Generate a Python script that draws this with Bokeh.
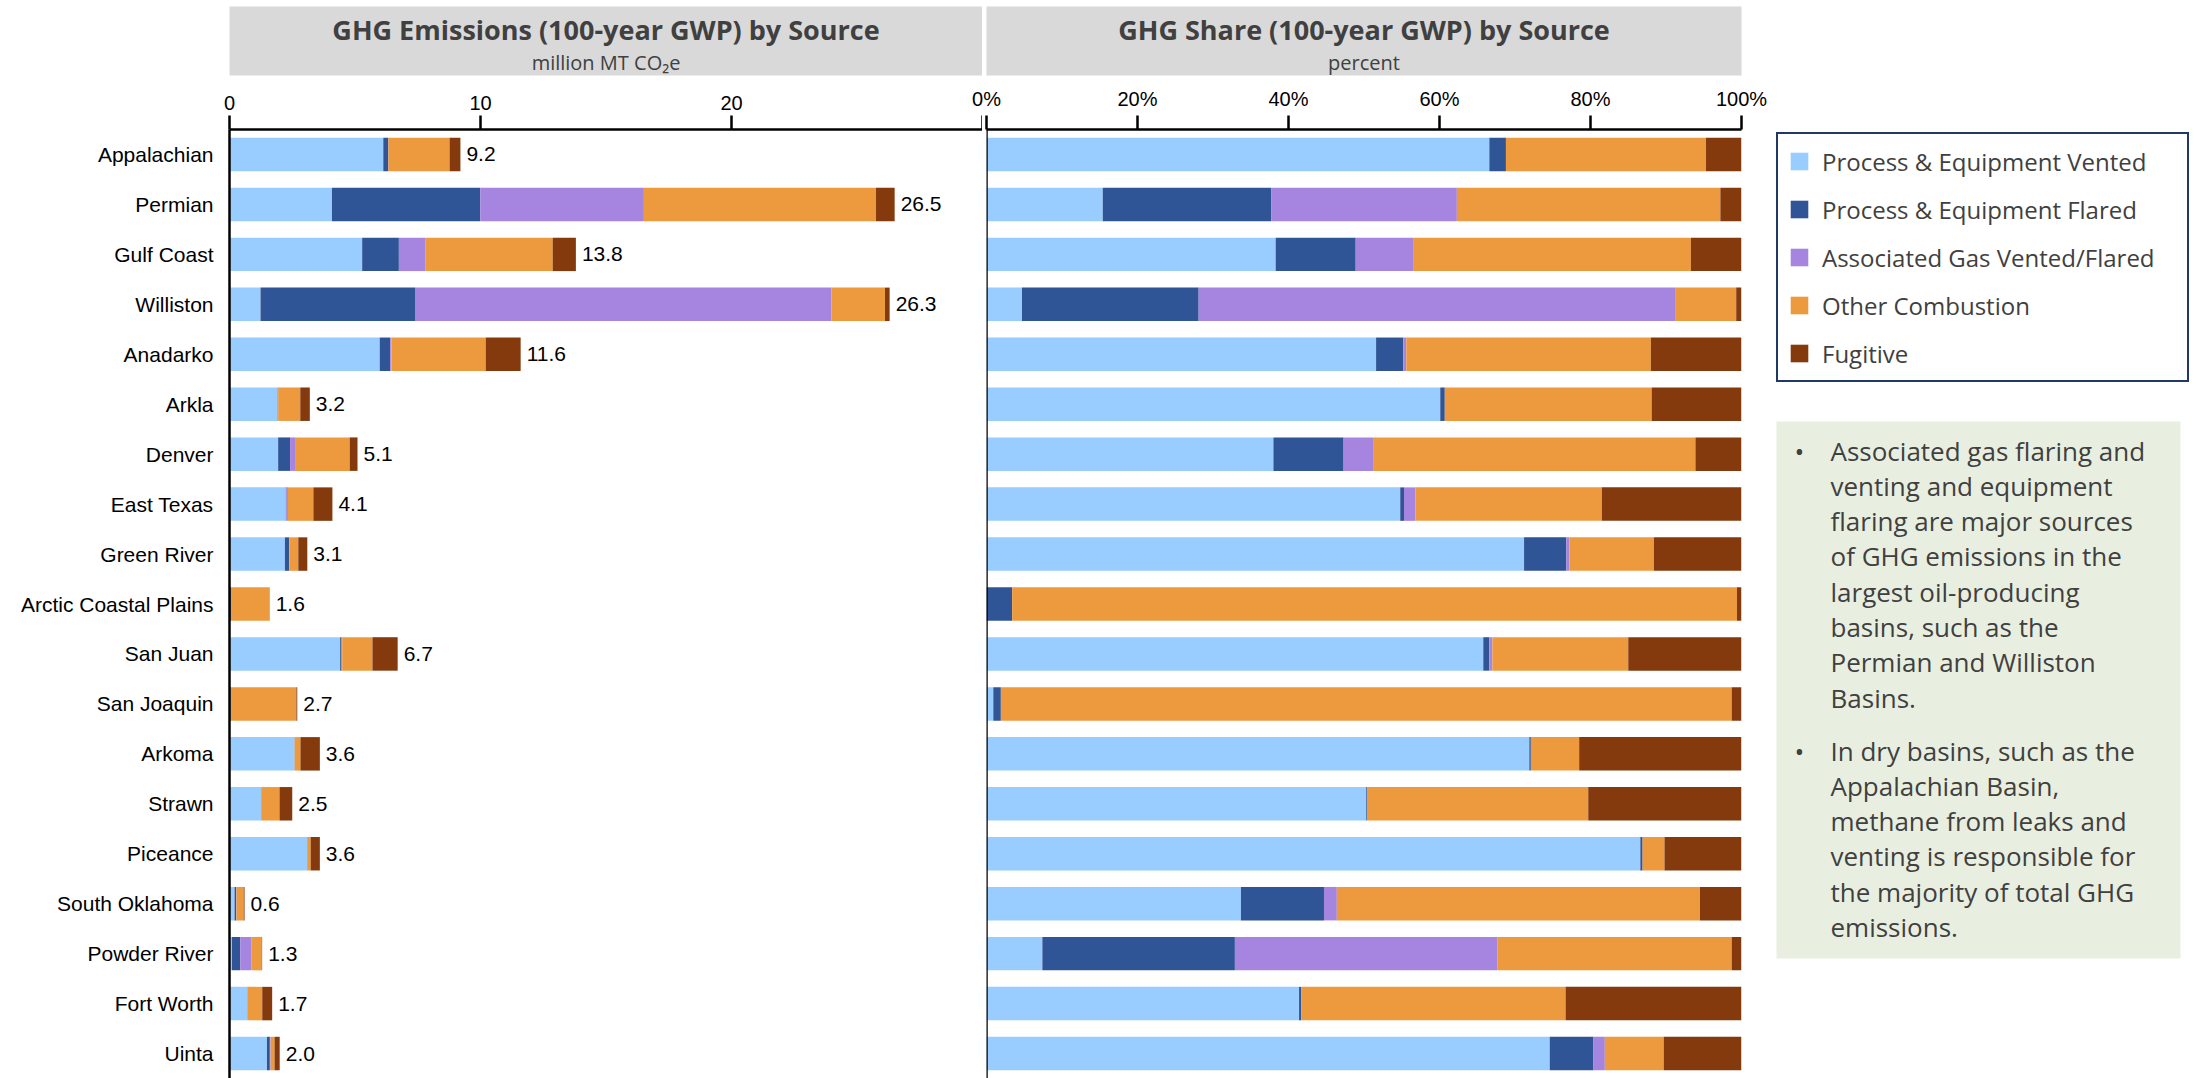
from bokeh.plotting import figure
from bokeh.models import (ColumnDataSource, FactorRange, Range1d, FixedTicker,
                          NumeralTickFormatter, Label, Legend, LegendItem, Span)
from bokeh.layouts import row, column
from bokeh.embed import file_html
from bokeh.resources import INLINE
from bokeh.core.properties import value

# ---------------- data ----------------
basins = ["Appalachian", "Permian", "Gulf Coast", "Williston", "Anadarko", "Arkla",
          "Denver", "East Texas", "Green River", "Arctic Coastal Plains", "San Juan",
          "San Joaquin", "Arkoma", "Strawn", "Piceance", "South Oklahoma",
          "Powder River", "Fort Worth", "Uinta"]
totals = [9.2, 26.5, 13.8, 26.3, 11.6, 3.2, 5.1, 4.1, 3.1, 1.6, 6.7, 2.7, 3.6, 2.5,
          3.6, 0.6, 1.3, 1.7, 2.0]
# shares of total (percent) by source
share_vented = [66.6, 15.4, 38.3, 4.7, 51.6, 60.1, 38.0, 54.8, 71.2, 0.0, 65.8, 0.9,
                71.9, 50.3, 86.6, 33.7, 7.4, 41.4, 74.6]
share_flared = [2.2, 22.3, 10.6, 23.4, 3.6, 0.6, 9.3, 0.5, 5.6, 3.4, 0.8, 1.0,
                0.2, 0.1, 0.3, 11.0, 25.5, 0.3, 5.8]
share_assoc = [0.0, 24.6, 7.6, 63.1, 0.4, 0.0, 3.9, 1.5, 0.4, 0.0, 0.4, 0.0,
               0.0, 0.0, 0.0, 1.7, 34.8, 0.0, 1.5]
share_comb = [26.5, 34.9, 36.8, 8.1, 32.4, 27.4, 42.7, 24.7, 11.2, 96.0, 18.0, 96.8,
              6.4, 29.3, 2.9, 48.1, 31.0, 35.0, 7.8]
share_fug = [4.7, 2.8, 6.7, 0.7, 12.0, 11.9, 6.1, 18.5, 11.6, 0.6, 15.0, 1.3,
             21.5, 20.3, 10.2, 5.5, 1.3, 23.3, 10.3]

source_names = ["Process & Equipment Vented", "Process & Equipment Flared",
                "Associated Gas Vented/Flared", "Other Combustion", "Fugitive"]
colors = ["#99CCFF", "#2F5597", "#A585E0", "#ED9A3E", "#843A0C"]
x_ticks_left = [0, 10, 20, 30]
x_ticks_right = [0, 0.2, 0.4, 0.6, 0.8, 1.0]

note_para1 = ["Associated gas flaring and", "venting and equipment",
              "flaring are major sources", "of GHG emissions in the",
              "largest oil-producing", "basins, such as the",
              "Permian and Williston", "Basins."]
note_para2 = ["In dry basins, such as the", "Appalachian Basin,",
              "methane from leaks and", "venting is responsible for",
              "the majority of total GHG", "emissions."]

# ---------------- sources ----------------
shares = [share_vented, share_flared, share_assoc, share_comb, share_fug]
abs_keys = ["a0", "a1", "a2", "a3", "a4"]
pct_keys = ["p0", "p1", "p2", "p3", "p4"]
data = {"basin": basins, "total": totals,
        "total_label": [f"{t:.1f}" for t in totals]}
for k_a, k_p, s in zip(abs_keys, pct_keys, shares):
    data[k_a] = [v * t / 100.0 for v, t in zip(s, totals)]
    data[k_p] = [v / 100.0 for v in s]
src = ColumnDataSource(data)

FONT_AX = "Liberation Sans"
FONT_TXT = "Open Sans"
TXT_COLOR = "#404040"
HDR_H = 76
TOTAL_H = 1078
BAR_H = 0.67


def style_x(p):
    p.grid.visible = False
    p.outline_line_color = None
    xa = p.xaxis[0]
    xa.axis_line_width = 2.5
    xa.axis_line_color = "black"
    xa.major_tick_line_width = 2.5
    xa.major_tick_line_color = "black"
    xa.major_tick_out = 14
    xa.major_tick_in = 0
    xa.minor_tick_line_color = None
    xa.major_label_standoff = 6
    xa.major_label_text_font = FONT_AX
    xa.major_label_text_font_size = "20px"
    xa.major_label_text_color = "black"


def header(width, mbl, mbr, title, subtitle, transparent=False):
    h = figure(width=width, height=HDR_H, x_range=Range1d(0, 1), y_range=Range1d(0, 1),
               toolbar_location=None, output_backend="svg",
               min_border_left=mbl, min_border_right=mbr, min_border_top=6,
               min_border_bottom=1, x_axis_location=None, y_axis_location=None,
               outline_line_color=None, background_fill_color="#D9D9D9")
    h.grid.visible = False
    if transparent:
        h.border_fill_alpha = 0
    h.add_layout(Label(x=0.5, y=0.66, text=title, text_align="center",
                       text_baseline="middle", text_font=FONT_TXT,
                       text_font_style="bold", text_font_size="27px",
                       text_color=TXT_COLOR))
    h.add_layout(Label(x=0.5, y=0.19, text=subtitle, text_align="center",
                       text_baseline="middle", text_font=FONT_TXT,
                       text_font_size="20px", text_color=TXT_COLOR))
    return h


# ---------------- left chart (absolute) ----------------
left = figure(width=982, height=TOTAL_H - HDR_H, x_range=Range1d(0, 30),
              y_range=FactorRange(factors=basins[::-1], range_padding=0),
              x_axis_location="above", toolbar_location=None, output_backend="svg",
              min_border_left=229, min_border_right=0, min_border_top=53,
              min_border_bottom=0)
left.hbar_stack(abs_keys, y="basin", height=BAR_H, fill_color=colors,
                line_color=None, source=src)
left.text(x="total", y="basin", text="total_label", source=src,
          text_font=value(FONT_AX), text_font_size=value("21px"),
          text_baseline="middle", text_align="left", x_offset=6, text_color="black")
style_x(left)
left.xaxis[0].ticker = FixedTicker(ticks=x_ticks_left)
left.xaxis[0].major_label_overrides = {30: ""}
ya = left.yaxis[0]
ya.axis_line_width = 2.5
ya.axis_line_color = "black"
ya.major_tick_line_color = None
ya.major_tick_out = 0
ya.major_tick_in = 0
ya.minor_tick_line_color = None
ya.major_label_text_font = FONT_AX
ya.major_label_text_font_size = "21px"
ya.major_label_text_color = "black"
ya.major_label_standoff = 16

# ---------------- right chart (share) ----------------
right = figure(width=808, height=TOTAL_H - HDR_H, x_range=Range1d(0, 1),
               y_range=FactorRange(factors=basins[::-1], range_padding=0),
               x_axis_location="above", y_axis_location=None,
               toolbar_location=None, output_backend="svg",
               min_border_left=22, min_border_right=29, min_border_top=53,
               min_border_bottom=0)
right.border_fill_alpha = 0
right.hbar_stack(pct_keys, y="basin", height=BAR_H, fill_color=colors,
                 line_color=None, source=src)
style_x(right)
right.xaxis[0].ticker = FixedTicker(ticks=x_ticks_right)
right.xaxis[0].formatter = NumeralTickFormatter(format="0%")
right.add_layout(Span(location=0, dimension="height", line_color="black",
                      line_width=2.5))

hdr_left = header(982, 226, 0, "GHG Emissions (100-year GWP) by Source",
                  "million MT CO\u2082e")
hdr_right = header(808, 24, 28, "GHG Share (100-year GWP) by Source", "percent",
                   transparent=True)

# ---------------- legend + note panel ----------------
aux = figure(width=432, height=TOTAL_H, x_range=Range1d(0, 432),
             y_range=Range1d(TOTAL_H, 0), toolbar_location=None, output_backend="svg",
             min_border_left=0, min_border_right=0, min_border_top=0,
             min_border_bottom=0, x_axis_location=None, y_axis_location=None,
             outline_line_color=None)
aux.grid.visible = False
items = []
for name, c in zip(source_names, colors):
    # zero-size proxy glyph: only its legend swatch is visible
    r = aux.quad(left=[0], right=[0], top=[0], bottom=[0], fill_color=c,
                 line_color=None)
    items.append(LegendItem(label=name, renderers=[r]))
legend = Legend(items=items, location=(6, 696), orientation="vertical",
                border_line_color="#1F3864", border_line_width=2.5,
                border_line_alpha=1.0,
                background_fill_color="white", background_fill_alpha=1,
                padding=10, spacing=14, margin=0, label_height=34,
                glyph_width=22, glyph_height=22, label_standoff=12, label_width=355,
                label_text_font=FONT_TXT, label_text_font_size="24px",
                label_text_color=TXT_COLOR)
aux.add_layout(legend)

aux.quad(left=[6], right=[410], top=[421], bottom=[958], fill_color="#E9EFE0",
         line_color=None)
line_gap = 35.3
ys1 = [450 + i * line_gap for i in range(len(note_para1))]
ys2 = [750 + i * line_gap for i in range(len(note_para2))]
aux.text(x=[60] * (len(ys1) + len(ys2)), y=ys1 + ys2, text=note_para1 + note_para2,
         text_font=value(FONT_TXT), text_font_size=value("26px"),
         text_baseline="middle", text_align="left", text_color=TXT_COLOR)
aux.text(x=[29, 29], y=[ys1[0], ys2[0]], text=["\u2022", "\u2022"],
         text_font=value(FONT_TXT), text_font_size=value("26px"),
         text_baseline="middle", text_align="center", text_color=TXT_COLOR)

layout = row(column(hdr_left, left),
             column(hdr_right, right, margin=(0, 0, 0, -20)),
             aux)

open("out.html", "w").write(file_html(layout, INLINE, "GHG Emissions by Basin"))
